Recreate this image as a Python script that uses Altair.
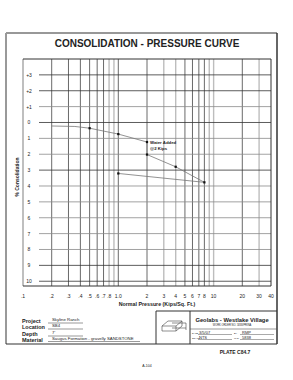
import altair as alt
import pandas as pd

# ---------------- data ----------------
pressure = [0.2, 0.35, 0.5, 1.0, 2.0, 2.0, 4.0, 8.0, 1.0]
consolidation = [0.22, 0.25, 0.36, 0.73, 1.23, 2.02, 2.79, 3.77, 3.21]
has_marker = [False, False, True, True, True, True, True, True, True]

x_tick_values = [0.1, 0.2, 0.3, 0.4, 0.5, 0.6, 0.7, 0.8, 1.0, 2, 3, 4, 5, 6, 7, 8, 10, 20, 30, 40]
x_tick_labels = [".1", ".2", ".3", ".4", ".5", ".6", ".7", ".8", "1.0", "2", "3", "4", "5", "6", "7", "8", "10", "20", "30", "40"]

y_tick_values = [-3, -2, -1, 0, 1, 2, 3, 4, 5, 6, 7, 8, 9, 10]
y_tick_labels = ["+3", "+2", "+1", "0", "1", "2", "3", "4", "5", "6", "7", "8", "9", "10"]

vgrid_dark = [0.2, 0.3, 0.4, 0.5, 0.6, 0.7, 1.0, 2, 5, 6, 7, 8, 20]
vgrid_light = [0.8, 0.9, 3, 4, 9, 10, 30]
hgrid_dark = [-3, -2, 0, 3, 9, 10]
hgrid_light = [-1, 1, 2, 4, 5, 6, 7, 8]

# ---------------- layout ----------------
W, H = 248, 227
OX, OY = 23, 59  # plot origin in page pixels
FONT = "Liberation Sans"


def X(a):
    return a - OX


def Y(a):
    return a - OY


xs = alt.Scale(type="log", domain=[0.1, 40], nice=False)
ys = alt.Scale(domain=[-4, 10.3], reverse=True, nice=False, zero=False)

one = pd.DataFrame({"t": [""]})


def txt(text, x, y, size, weight="normal", align="left", angle=0, color="#222"):
    kw = dict(font=FONT, fontSize=size, fontWeight=weight, align=align,
              baseline="middle", color=color)
    if angle:
        kw["angle"] = angle
    return alt.Chart(pd.DataFrame({"t": [text]})).mark_text(**kw).encode(
        x=alt.value(X(x)), y=alt.value(Y(y)), text="t:N")


def rule(x1, y1, x2, y2, color="#222", width=1.0):
    return alt.Chart(one).mark_rule(color=color, strokeWidth=width).encode(
        x=alt.value(X(x1)), y=alt.value(Y(y1)), x2=alt.value(X(x2)), y2=alt.value(Y(y2)))


layers = []

# vertical grid
layers.append(alt.Chart(pd.DataFrame({"p": vgrid_light})).mark_rule(color="#bdbdbd", strokeWidth=1.4).encode(
    x=alt.X("p:Q", scale=xs, axis=None), y=alt.value(0), y2=alt.value(H)))
layers.append(alt.Chart(pd.DataFrame({"p": vgrid_dark})).mark_rule(color="#444", strokeWidth=0.8).encode(
    x=alt.X("p:Q", scale=xs, axis=None), y=alt.value(0), y2=alt.value(H)))
# horizontal grid
layers.append(alt.Chart(pd.DataFrame({"c": hgrid_light})).mark_rule(color="#8a8a8a", strokeWidth=0.8).encode(
    y=alt.Y("c:Q", scale=ys, axis=None), x=alt.value(16), x2=alt.value(W)))
layers.append(alt.Chart(pd.DataFrame({"c": hgrid_dark})).mark_rule(color="#333", strokeWidth=0.8).encode(
    y=alt.Y("c:Q", scale=ys, axis=None), x=alt.value(16), x2=alt.value(W)))

# plot borders
layers.append(alt.Chart(one).mark_rule(color="#aaa", strokeWidth=1.5).encode(
    x=alt.value(0), y=alt.value(0), y2=alt.value(H)))
layers.append(alt.Chart(one).mark_rule(color="#333", strokeWidth=1).encode(
    x=alt.value(0), x2=alt.value(W), y=alt.value(0)))
layers.append(alt.Chart(one).mark_rule(color="#333", strokeWidth=1).encode(
    x=alt.value(0), x2=alt.value(W), y=alt.value(H)))
layers.append(alt.Chart(one).mark_rule(color="#333", strokeWidth=1).encode(
    x=alt.value(W), y=alt.value(0), y2=alt.value(H)))

# data curve
df = pd.DataFrame({"p": pressure, "c": consolidation, "m": has_marker, "o": list(range(len(pressure)))})
layers.append(alt.Chart(df).mark_line(color="#777", strokeWidth=0.8).encode(
    x=alt.X("p:Q", scale=xs, axis=None), y=alt.Y("c:Q", scale=ys, axis=None), order="o:Q"))
layers.append(alt.Chart(df[df["m"]]).mark_square(color="#111", size=5, opacity=1).encode(
    x=alt.X("p:Q", scale=xs, axis=None), y=alt.Y("c:Q", scale=ys, axis=None)))

# tick labels
layers.append(alt.Chart(pd.DataFrame({"c": y_tick_values, "l": y_tick_labels})).mark_text(
    font=FONT, fontSize=5, align="center", baseline="middle", color="#222").encode(
    y=alt.Y("c:Q", scale=ys, axis=None), x=alt.value(6), text="l:N"))
layers.append(alt.Chart(pd.DataFrame({"p": x_tick_values, "l": x_tick_labels})).mark_text(
    font=FONT, fontSize=5, align="center", baseline="middle", color="#222").encode(
    x=alt.X("p:Q", scale=xs, axis=None), y=alt.value(H + 10), text="l:N"))

# annotation
layers.append(txt("Water Added", 150, 143, 4.3, "bold"))
layers.append(txt("@2 Kips", 150, 149, 4.3, "bold"))

# titles
layers.append(txt("CONSOLIDATION - PRESSURE CURVE", 147, 44, 10, "bold", "center"))
layers.append(txt("% Consolidation", 17, 177, 5, "bold", "center", angle=270))
layers.append(txt("Normal Pressure (Kips/Sq. Ft.)", 157, 304, 5.3, "bold", "center"))

# outer frame
layers.append(rule(6, 33, 277, 33, "#333", 1.2))
layers.append(rule(6, 33, 6, 344, "#999", 2))
layers.append(rule(277, 33, 277, 344, "#333", 1.5))
layers.append(rule(6, 344, 277, 344, "#333", 1.2))

# info block (left)
for lab, val, yy, ul in [("Project", "Skyline Ranch", 321, 83),
                         ("Location", "SB4", 327, 83),
                         ("Depth", "7'", 334, 83),
                         ("Material", "Saugus Formation - gravelly SANDSTONE", 339.5, 140)]:
    layers.append(txt(lab, 22, yy, 5.5, "bold"))
    layers.append(txt(val, 52, yy - 1, 4.3))
    layers.append(rule(48, yy + 2, ul, yy + 2, "#555", 0.6))

# info block (right)
layers.append(rule(156, 311, 277, 311, "#333", 1))
layers.append(rule(156, 311, 156, 344, "#333", 1))
layers.append(rule(190, 311, 190, 344, "#333", 1))
layers.append(rule(190, 329, 277, 329, "#555", 0.6))
layers.append(txt("Geolabs - Westlake Village", 232, 320, 5.8, "bold", "center"))
layers.append(txt("WORK ORDER NO. 5838/PRINA", 232, 325.5, 2.6, "normal", "center"))
layers.append(txt("DATE", 192, 333, 2.4))
layers.append(txt("3/5/07", 199, 332.5, 4))
layers.append(rule(198, 334.5, 232, 334.5, "#555", 0.5))
layers.append(txt("BY", 234, 333, 2.4))
layers.append(txt("RMP", 242, 332.5, 4))
layers.append(rule(240, 334.5, 274, 334.5, "#555", 0.5))
layers.append(txt("SCALE", 192, 338, 2.4))
layers.append(txt("NTS", 199, 337.5, 4))
layers.append(rule(198, 339.5, 232, 339.5, "#555", 0.5))
layers.append(txt("W.O.", 234, 338, 2.4))
layers.append(txt("5838", 242, 337.5, 4))
layers.append(rule(240, 339.5, 274, 339.5, "#555", 0.5))

# logo (simple stacked boxes)
for (a, b, c, d) in [(162, 326, 176, 326), (162, 326, 168, 321), (168, 321, 182, 321), (176, 326, 182, 321),
                     (162, 326, 162, 331), (176, 326, 176, 331), (162, 331, 176, 331), (182, 321, 182, 326),
                     (176, 331, 182, 326), (172, 323, 186, 323), (186, 323, 186, 330), (172, 328, 186, 328)]:
    layers.append(rule(a, b, c, d, "#444", 0.6))

# plate labels
layers.append(txt("PLATE C84.7", 235, 352, 5, "bold", "center"))
layers.append(txt("A-104", 147, 366, 3.5, "normal", "center"))

chart = alt.layer(*layers).properties(
    width=W, height=H,
    autosize=alt.AutoSizeParams(type="none"),
    padding={"left": OX, "top": OY, "right": 293 - OX - W, "bottom": 380 - OY - H},
    background="white",
).configure_view(strokeWidth=0)

chart.save("out.html", embed_options={"renderer": "svg", "actions": False})
